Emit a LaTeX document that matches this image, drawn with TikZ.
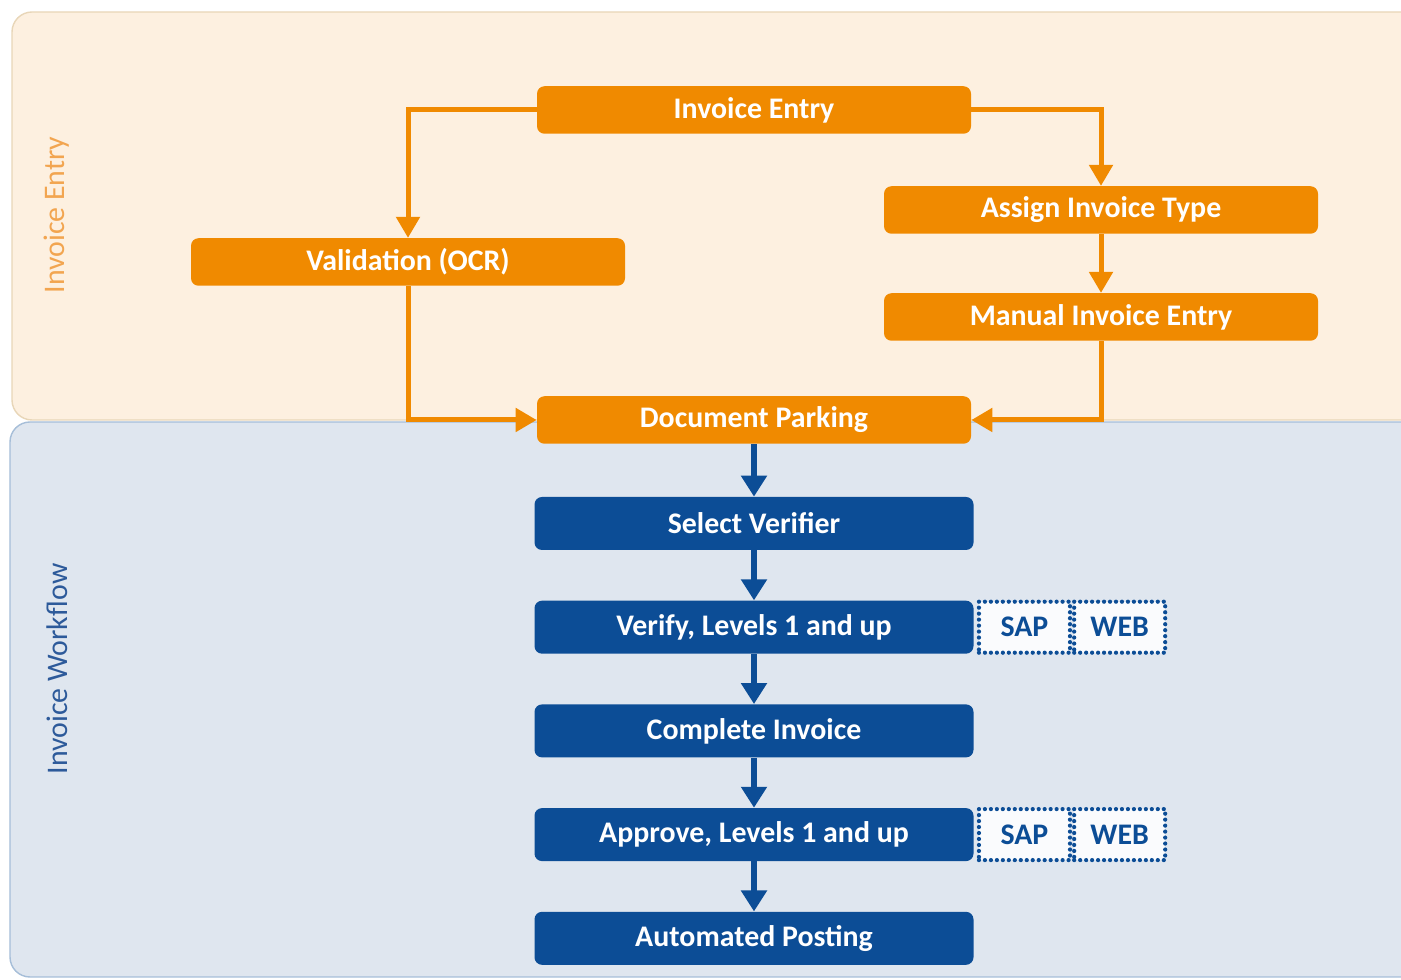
\documentclass[tikz,border=0pt]{standalone}
\usepackage{fontspec}
\setmainfont{Carlito}
\usepackage{tikz}
\usepackage{xcolor}
\usetikzlibrary{arrows.meta, positioning}

\definecolor{sapOrange}{RGB}{240,138,0}
\definecolor{sapBlue}{RGB}{12,77,150}
\definecolor{entryBg}{RGB}{253,240,224}
\definecolor{entryLine}{RGB}{232,214,184}
\definecolor{flowBg}{RGB}{223,230,239}
\definecolor{flowLine}{RGB}{166,190,216}
\definecolor{entryText}{RGB}{242,165,80}
\definecolor{flowText}{RGB}{45,90,154}

\begin{document}
\begin{tikzpicture}[
    font=\fontsize{17}{20}\selectfont,
    entrybox/.style={fill=sapOrange, text=white, font=\bfseries\fontsize{17}{20}\selectfont,
      rounded corners=0.15cm, minimum width=8.68cm, minimum height=0.95cm, inner sep=0pt},
    flowbox/.style={fill=sapBlue, text=white, font=\bfseries\fontsize{17}{20}\selectfont,
      rounded corners=0.15cm, minimum width=8.78cm, minimum height=1.06cm, inner sep=0pt},
    sysbox/.style={draw=sapBlue, fill=white!85!flowBg, text=sapBlue, line width=2.4pt,
      dash pattern=on 0pt off 3.4pt, line cap=round, font=\bfseries\fontsize{17}{20}\selectfont,
      minimum width=1.82cm, minimum height=1.02cm, inner sep=0pt},
    entryarrow/.style={draw=sapOrange, line width=0.1cm, -{Triangle[length=0.42cm,width=0.46cm]}},
    flowarrow/.style={draw=sapBlue, line width=0.13cm, -{Triangle[length=0.42cm,width=0.5cm]}}
  ]
  \useasboundingbox (0,0) rectangle (28.02,19.6);
  \clip (0,0) rectangle (28.02,19.6);

  % Panels
  \draw[entryLine, fill=entryBg, line width=0.8pt, rounded corners=0.4cm]
    (0.24,11.2) rectangle (28.6,19.36);
  \draw[flowLine, fill=flowBg, line width=0.8pt, rounded corners=0.4cm]
    (0.2,0.06) rectangle (28.6,11.16);
  \node[rotate=90, text=entryText] (entrylabel) at (1.14,15.3) {Invoice Entry};
  \node[rotate=90, text=flowText] (flowlabel) at (1.14,6.22) {Invoice Workflow};

  % Invoice entry
  \node[entrybox] (entry)  at (15.08,17.4)  {Invoice Entry};
  \node[entrybox] (valid)  at (8.16,14.36)  {Validation (OCR)};
  \node[entrybox] (assign) at (22.02,15.4)  {Assign Invoice Type};
  \node[entrybox] (manual) at (22.02,13.26) {Manual Invoice Entry};
  \node[entrybox] (park)   at (15.08,11.2)  {Document Parking};

  \draw[entryarrow] (entry.west) -| (valid.north);
  \draw[entryarrow] (entry.east) -| (assign.north);
  \draw[entryarrow] (assign) -- (manual);
  \draw[entryarrow] (valid.south) |- (park.west);
  \draw[entryarrow] (manual.south) |- (park.east);

  % Invoice workflow
  \node[flowbox] (select)   at (15.08,9.13) {Select Verifier};
  \node[flowbox, below=1.0cm of select]   (verify)   {Verify, Levels 1 and up};
  \node[flowbox, below=1.0cm of verify]   (complete) {Complete Invoice};
  \node[flowbox, below=1.0cm of complete] (approve)  {Approve, Levels 1 and up};
  \node[flowbox, below=1.0cm of approve]  (posting)  {Automated Posting};

  \draw[flowarrow] (park) -- (select);
  \draw[flowarrow] (select) -- (verify);
  \draw[flowarrow] (verify) -- (complete);
  \draw[flowarrow] (complete) -- (approve);
  \draw[flowarrow] (approve) -- (posting);

  % SAP / WEB
  \node[sysbox, right=0.06cm of verify] (sapA) {SAP};
  \node[sysbox, right=0pt of sapA] (webA) {WEB};
  \node[sysbox, right=0.06cm of approve] (sapB) {SAP};
  \node[sysbox, right=0pt of sapB] (webB) {WEB};
\end{tikzpicture}
\end{document}
